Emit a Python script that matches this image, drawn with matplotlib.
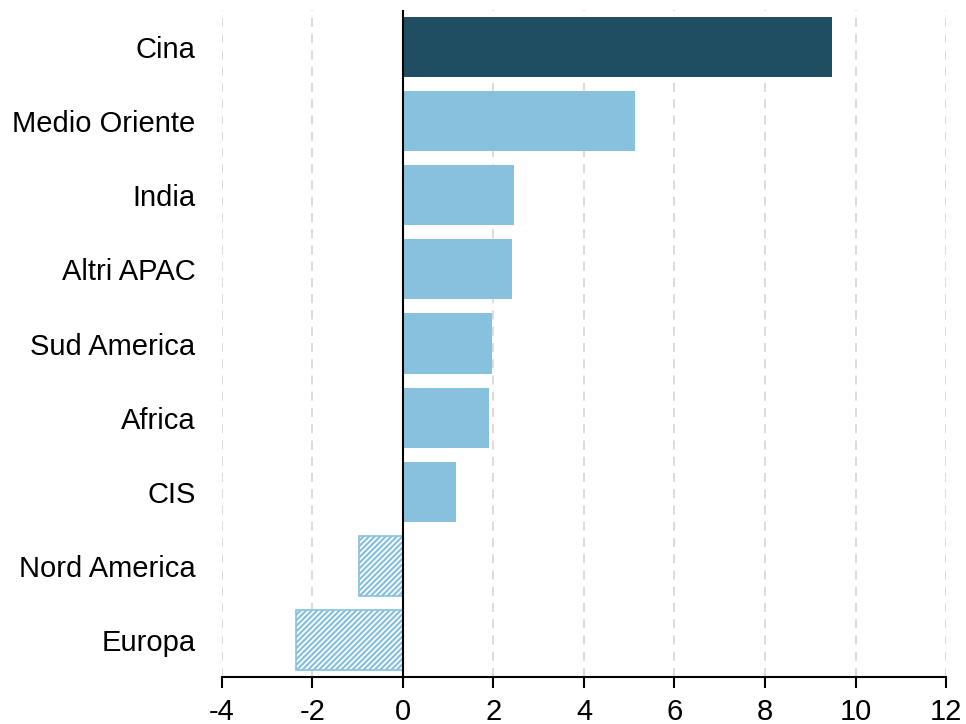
import numpy as np
import matplotlib.pyplot as plt

# Contributi regionali
regioni = ["Cina", "Medio Oriente", "India", "Altri APAC", "Sud America",
           "Africa", "CIS", "Nord America", "Europa"]
valori = [9.47, 5.12, 2.46, 2.40, 1.97, 1.90, 1.17, -0.97, -2.37]

dark = "#1f4e63"
light = "#88c1de"

plt.rcParams['font.family'] = ['Liberation Sans', 'DejaVu Sans']
plt.rcParams['hatch.linewidth'] = 1.6
plt.rcParams['axes.unicode_minus'] = False

fig = plt.figure(figsize=(9.66, 7.24), dpi=100)
ax = fig.add_axes([0.2298, 0.0649, 0.7495, 0.9213])

y = np.arange(len(regioni))[::-1]
for yi, v, name in zip(y, valori, regioni):
    if name == "Cina":
        ax.barh(yi, v, height=0.81, color=dark, zorder=3)
    elif v < 0:
        ax.barh(yi, v, height=0.81, facecolor="white", edgecolor=light,
                hatch="//////", linewidth=1.2, zorder=3)
    else:
        ax.barh(yi, v, height=0.81, color=light, zorder=3)

ax.axvline(0, color="black", lw=1.5, zorder=4)
ax.set_xlim(-4, 12)
ax.set_ylim(-0.5, len(regioni) - 0.5)
ax.set_xticks(np.arange(-4, 13, 2))
ax.set_yticks(y)
ax.set_yticklabels(regioni, fontsize=21)
ax.tick_params(axis="x", labelsize=21, length=8, width=1.5, direction="out", pad=7)
ax.tick_params(axis="y", length=0, pad=19)
ax.grid(axis="x", color="#d9d9d9", linestyle=(0, (5, 4)), lw=1.3, zorder=0)
for s in ["top", "right", "left"]:
    ax.spines[s].set_visible(False)
ax.spines["bottom"].set_linewidth(1.5)

fig.savefig("out.png", dpi=100)
